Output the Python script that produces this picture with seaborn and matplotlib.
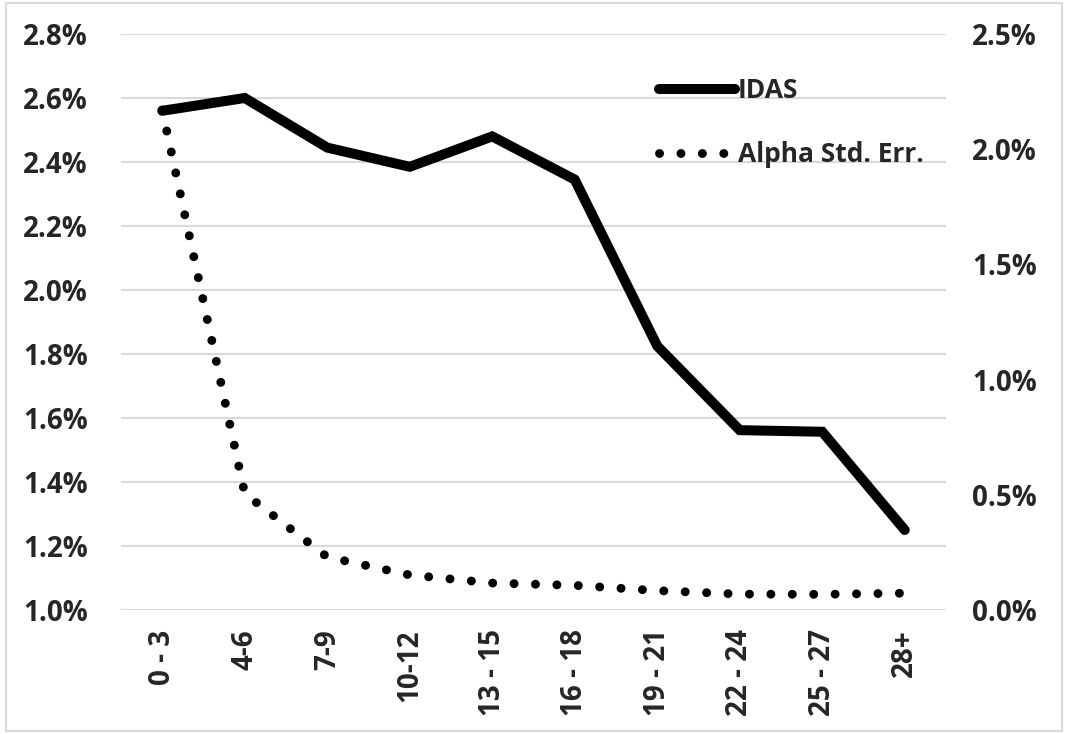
import numpy as np
import pandas as pd
import matplotlib
matplotlib.use("Agg")
import matplotlib.pyplot as plt
import seaborn as sns
from matplotlib.patches import Rectangle

categories = ["0 - 3", "4-6", "7-9", "10-12", "13 - 15", "16 - 18",
              "19 - 21", "22 - 24", "25 - 27", "28+"]
idas = [2.56, 2.60, 2.445, 2.385, 2.48, 2.345, 1.825, 1.562, 1.557, 1.25]
alpha_se = [2.17, 0.505, 0.23, 0.152, 0.117, 0.107, 0.084, 0.069, 0.068, 0.073]
left_ticks = [1.0, 1.2, 1.4, 1.6, 1.8, 2.0, 2.2, 2.4, 2.6, 2.8]
right_ticks = [0.0, 0.5, 1.0, 1.5, 2.0, 2.5]

sns.set_style("white")
plt.rcParams["font.family"] = ["Open Sans", "DejaVu Sans"]
plt.rcParams["font.weight"] = "bold"

df = pd.DataFrame({"pos": np.arange(len(categories)), "cat": categories,
                   "IDAS": idas, "Alpha Std. Err.": alpha_se})

fig = plt.figure(figsize=(10.68, 7.34), dpi=100)
ax = fig.add_axes([121/1068, 1-610/734, (946-121)/1068, (610-34)/734])
ax2 = ax.twinx()

sns.lineplot(data=df, x="pos", y="IDAS", ax=ax, color="black", lw=7.2,
             solid_capstyle="round", solid_joinstyle="miter", label="IDAS",
             legend=False, sort=False)
sns.lineplot(data=df, x="pos", y="Alpha Std. Err.", ax=ax2, color="black", lw=6.4,
             legend=False, sort=False, label="Alpha Std. Err.")
for ln in ax2.get_lines():
    ln.set_linestyle((0, (0.01, 2.4)))
    ln.set_dash_capstyle("round")

ax.set_xlim(-0.5, len(categories) - 0.5)
ax.set_ylim(1.0, 2.8)
ax2.set_ylim(0.0, 2.5)

ax.set_yticks(left_ticks)
ax.set_yticklabels([f"{v:.1f}%" for v in left_ticks])
ax2.set_yticks(right_ticks)
ax2.set_yticklabels([f"{v:.1f}%" for v in right_ticks])
ax.set_xticks(df["pos"])
ax.set_xticklabels(categories, rotation=90)

ax.grid(axis="y", color="#d9d9d9", lw=1.5)
ax.grid(axis="x", visible=False)
ax2.grid(False)
ax.set_axisbelow(True)
for a in (ax, ax2):
    for s in a.spines.values():
        s.set_visible(False)
    a.set_xlabel("")
    a.set_ylabel("")
ax.tick_params(axis="y", length=0, pad=24, labelsize=20)
ax.tick_params(axis="x", length=0, pad=14, labelsize=20)
ax2.tick_params(axis="y", length=0, pad=19, labelsize=20)
for lbl in ax.get_xticklabels() + ax.get_yticklabels() + ax2.get_yticklabels():
    lbl.set_fontweight("bold")

h1, l1 = ax.get_legend_handles_labels()
h2, l2 = ax2.get_legend_handles_labels()
leg = ax2.legend(h1 + h2, l1 + l2, loc="upper left", bbox_to_anchor=(0.652, 0.925),
                 frameon=False, handlelength=2.9, handletextpad=0.08,
                 labelspacing=1.4, borderpad=0, borderaxespad=0,
                 prop={"weight": "bold", "size": 19})

fig.patches.append(Rectangle((6/1068, 3/734), 1 - 12/1068, 1 - 6/734,
                             transform=fig.transFigure, fill=False,
                             edgecolor="#d9d9d9", lw=1.5))

fig.savefig("out.png", dpi=100)
